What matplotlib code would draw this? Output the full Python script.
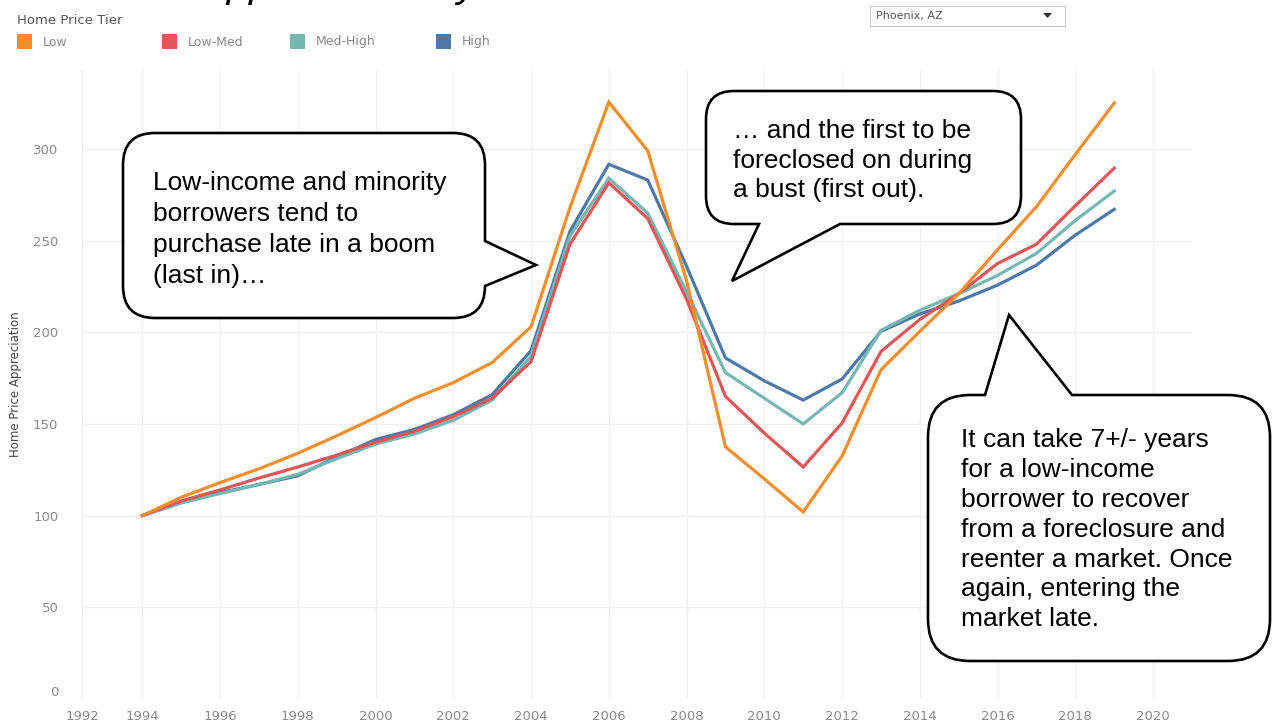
import numpy as np
import matplotlib.pyplot as plt
from matplotlib.path import Path
from matplotlib.patches import PathPatch, Rectangle, Polygon

W, H = 1272, 723

years = list(range(1994, 2020))
low = [100, 110, 118, 125.5, 134, 143.5, 153.5, 164, 172.5, 183.5, 203, 268, 325.5, 299,
       228, 137.5, 120, 102, 132.5, 179.5, 200.5, 221, 245, 268.5, 297, 325]
low_med = [100, 108, 114, 120.5, 126.5, 133, 140, 146, 154, 164, 184, 248, 281.5, 262,
           218, 165, 145, 126.5, 150.5, 189.5, 207, 221, 237.5, 248, 269, 289.5]
med_high = [100, 107, 112, 117, 122.5, 131, 139, 144.5, 152, 163, 187, 252.5, 284, 265,
            222, 178, 164, 150, 167, 201, 212, 221, 231, 243, 261, 277]
high = [100, 107, 112.5, 117, 121.7, 132, 141.5, 147, 155, 166, 190, 255, 291.6, 283,
        236, 186, 173.5, 163, 174.5, 200.5, 210, 217, 225.7, 236.6, 253, 267]

tiers = ["Low", "Low-Med", "Med-High", "High"]
series = [low, low_med, med_high, high]
colors = ["#F28E2B", "#E15759", "#76B7B2", "#4E79A7"]

x_ticks = list(range(1994, 2021, 2))
y_ticks = [0, 50, 100, 150, 200, 250, 300]

notes = [
    "Low-income and minority\nborrowers tend to\npurchase late in a boom\n(last in)\u2026",
    "\u2026 and the first to be\nforeclosed on during\na bust (first out).",
    "It can take 7+/- years\nfor a low-income\nborrower to recover\nfrom a foreclosure and\n"
    "reenter a market. Once\nagain, entering the\nmarket late.",
]

fig = plt.figure(figsize=(W / 100, H / 100), dpi=100)
fig.patch.set_facecolor("white")


def px(x, y):
    # pixel position (from top-left) to figure fraction
    return x / W, 1 - y / H


ax = fig.add_axes([82 / W, 1 - 699 / H, (1192 - 82) / W, (699 - 70) / H])
ax.set_xlim(1992.45, 2021)
ax.set_ylim(0, 343)

for vals, col, name in reversed(list(zip(series, colors, tiers))):
    ax.plot(years, vals, color=col, lw=2.3, solid_joinstyle="miter", label=name, zorder=3)

ax.set_xticks([1992.45] + x_ticks)
ax.set_xticklabels(["1992"] + [str(y) for y in x_ticks])
ax.set_yticks(y_ticks)
ax.set_yticklabels([str(v) for v in y_ticks])
ax.get_yticklabels()[0].set_verticalalignment("bottom")
ax.tick_params(length=0, labelsize=9.5, labelcolor="#8a8a8a", pad=8)
ax.tick_params(axis="y", pad=17)
for v in y_ticks:
    ax.axhline(v, color="#f0f0f0", lw=1, zorder=0)
for x in x_ticks:
    ax.axvline(x, color="#f0f0f0", lw=1, zorder=0)
for s in ["top", "right", "bottom"]:
    ax.spines[s].set_visible(False)
ax.spines["left"].set_color("#ececec")
ax.set_ylabel("Home Price Appreciation", fontsize=8.5, color="#444444")
ax.yaxis.set_label_coords(-60 / (1192 - 82), 0.5)

# title sits mostly above the canvas
fig.text(*px(-20, -3), "Home Price Appreciation by Tier", fontsize=29, style="italic",
         family="Liberation Sans", va="baseline", ha="left")

# legend
fig.text(*px(17, 20), "Home Price Tier", fontsize=9.5, color="#555555", va="center")
legend_x = [17, 162, 290, 436]
for lx, col, name in zip(legend_x, colors, tiers):
    fig.patches.append(Rectangle(px(lx, 49), 15 / W, 15 / H, transform=fig.transFigure,
                                 facecolor=col, edgecolor="none"))
    fig.text(*px(lx + 26, 42), name, fontsize=9, color="#888888", va="center")

# city selector
fig.patches.append(Rectangle(px(870, 26), 195 / W, 20 / H, transform=fig.transFigure,
                             facecolor="white", edgecolor="#c8c8c8", lw=0.8))
fig.text(*px(876, 16), "Phoenix, AZ", fontsize=8, color="#555555", va="center")
fig.patches.append(Polygon([px(1043, 13), px(1052, 13), px(1047.5, 18)], closed=True,
                           transform=fig.transFigure, facecolor="#333333", edgecolor="none"))


def bubble(x0, y0, x1, y1, r, side, b0, b1, tip):
    verts, codes = [], []

    def move(p):
        verts.append(px(*p)); codes.append(Path.MOVETO)

    def line(p):
        verts.append(px(*p)); codes.append(Path.LINETO)

    def corner(c, p):
        verts.append(px(*c)); codes.append(Path.CURVE3)
        verts.append(px(*p)); codes.append(Path.CURVE3)

    move((x0 + r, y0))
    if side == "top":
        line((b0, y0)); line(tip); line((b1, y0))
    line((x1 - r, y0))
    corner((x1, y0), (x1, y0 + r))
    if side == "right":
        line((x1, b0)); line(tip); line((x1, b1))
    line((x1, y1 - r))
    corner((x1, y1), (x1 - r, y1))
    if side == "bottom":
        line((b1, y1)); line(tip); line((b0, y1))
    line((x0 + r, y1))
    corner((x0, y1), (x0, y1 - r))
    line((x0, y0 + r))
    corner((x0, y0), (x0 + r, y0))
    verts.append(px(x0 + r, y0)); codes.append(Path.CLOSEPOLY)
    patch = PathPatch(Path(verts, codes), transform=fig.transFigure, facecolor="white",
                      edgecolor="black", lw=1.9, zorder=5)
    fig.add_artist(patch)


bubble(123, 133, 485, 318, 32, "right", 241, 286, (536, 265))
bubble(706, 91, 1021, 224, 28, "bottom", 759, 840, (732, 281))
bubble(928, 395, 1270, 661, 42, "top", 985, 1072, (1009, 315))

note_pos = [(153, 171), (733, 119), (961, 428)]
note_spacing = [1.36, 1.29, 1.31]
for (tx, ty), ls, txt in zip(note_pos, note_spacing, notes):
    fig.text(*px(tx, ty), txt, fontsize=19, family="Liberation Sans", va="top", ha="left",
             linespacing=ls, zorder=6)

fig.savefig("out.png", dpi=100)
